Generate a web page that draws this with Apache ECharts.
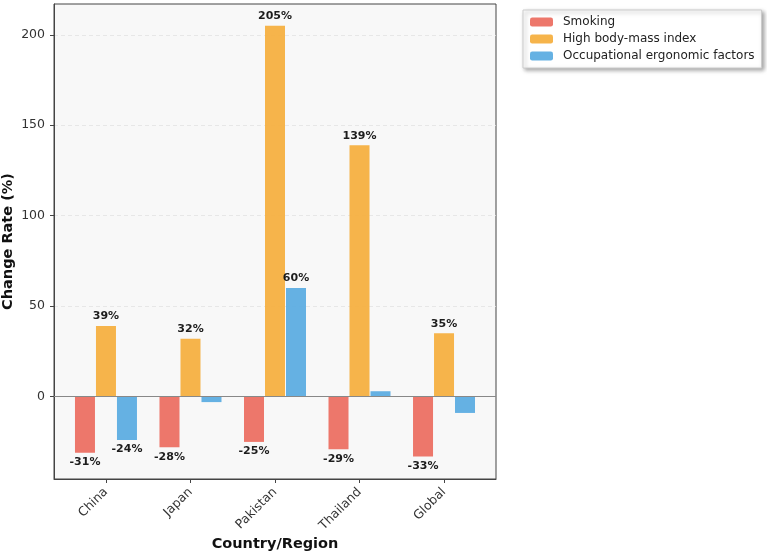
<!DOCTYPE html>
<html>
<head>
<meta charset="utf-8">
<script src="https://cdn.jsdelivr.net/npm/echarts@6/dist/echarts.min.js"></script>
<style>
    html, body { margin: 0; padding: 0; background: #fff; }
    #chart { width: 767px; height: 555px; }
</style>
</head>
<body>
<div id="chart"></div>
<script>
const CATEGORIES = ['China', 'Japan', 'Pakistan', 'Thailand', 'Global'];
const SMOKING = [-31, -28, -25, -29, -33];
const HIGH_BMI = [39, 32, 205, 139, 35];
const OCCUPATIONAL = [-24, -3, 60, 3, -9];
const Y_TICKS = [0, 50, 100, 150, 200];
const X_TICKS = [0, 1, 2, 3, 4];

const FONT = 'DejaVu Sans';
const COLORS = ['#EC7063', '#F5B041', '#5DADE2'];

const chart = echarts.init(document.getElementById('chart'));

function barSeries(name, values, color) {
    return {
        name,
        type: 'bar',
        barWidth: 20,
        barGap: '5%',
        // negative bars get their labels underneath
        data: values.map((v, i) => v < 0
            ? { value: [i, v], label: { position: 'bottom' } }
            : { value: [i, v] }),
        itemStyle: { color, opacity: 0.95 },
        label: {
            show: true,
            position: 'top',
            distance: 4,
            fontFamily: FONT,
            fontSize: 11,
            fontWeight: 'bold',
            color: '#111',
            formatter: p => Math.abs(p.value[1]) >= 10 ? p.value[1] + '%' : '',
        },
    };
}

const series = [
    barSeries('Smoking', SMOKING, COLORS[0]),
    barSeries('High body-mass index', HIGH_BMI, COLORS[1]),
    barSeries('Occupational ergonomic factors', OCCUPATIONAL, COLORS[2]),
];
series[0].markLine = {
    silent: true,
    symbol: 'none',
    label: { show: false },
    lineStyle: { color: '#888', type: 'solid', width: 1.2 },
    data: [{ yAxis: 0 }],
};

chart.setOption({
    animation: false,
    textStyle: { fontFamily: FONT },
    grid: {
        left: 54, right: 271, top: 4, bottom: 76,
        outerBoundsMode: 'none',
        containLabel: false,
        show: true,
        backgroundColor: '#f8f8f8',
        borderColor: '#444',
        borderWidth: 1,
    },
    legend: {
        orient: 'vertical',
        left: 523, top: 10,
        padding: [6, 7, 6, 7],
        itemWidth: 23, itemHeight: 9,
        itemGap: 5,
        backgroundColor: '#fff',
        borderColor: '#ccc',
        borderWidth: 1,
        shadowColor: 'rgba(0,0,0,0.35)',
        shadowBlur: 4,
        shadowOffsetX: 2,
        shadowOffsetY: 2,
        textStyle: { fontFamily: FONT, fontSize: 12, color: '#222', padding: [0, 0, 0, 5] },
        itemStyle: { borderWidth: 0 },
    },
    xAxis: {
        type: 'value',
        min: -0.615, max: 4.615,
        name: 'Country/Region',
        nameLocation: 'middle',
        nameGap: 58,
        nameMoveOverlap: false,
        nameTextStyle: { fontFamily: FONT, fontSize: 14.5, fontWeight: 'bold', color: '#111' },
        axisLine: { show: true, onZero: false, lineStyle: { color: '#444' } },
        axisTick: { show: true, customValues: X_TICKS, length: 4, lineStyle: { color: '#444' } },
        axisLabel: {
            customValues: X_TICKS,
            formatter: v => CATEGORIES[v],
            rotate: 45,
            fontFamily: FONT, fontSize: 12.5, color: '#333',
            margin: 11,
        },
        splitLine: { show: false },
    },
    yAxis: {
        type: 'value',
        min: -45.5, max: 217,
        name: 'Change Rate (%)',
        nameLocation: 'middle',
        nameGap: 38,
        nameMoveOverlap: false,
        nameTextStyle: { fontFamily: FONT, fontSize: 14.5, fontWeight: 'bold', color: '#111' },
        axisLine: { show: true, onZero: false, lineStyle: { color: '#444' } },
        axisTick: { show: true, customValues: Y_TICKS, length: 4, lineStyle: { color: '#444' } },
        axisLabel: { customValues: Y_TICKS, fontFamily: FONT, fontSize: 12.5, color: '#333', margin: 9 },
        splitLine: { show: true, lineStyle: { color: '#e2e2e2', type: [4, 3], width: 0.8 } },
    },
    series,
});
</script>
</body>
</html>
